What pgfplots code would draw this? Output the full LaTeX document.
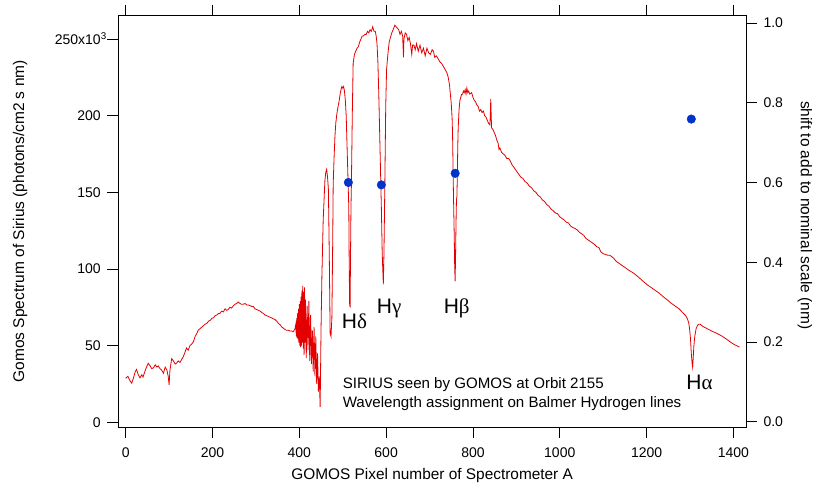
\documentclass[border=0pt]{standalone}
\usepackage{fontspec}
\setmainfont{Liberation Sans}
\newfontfamily\greekfont{Liberation Serif}
\usepackage{pgfplots}
\pgfplotsset{compat=1.18}
\definecolor{specred}{RGB}{228,0,0}
\definecolor{dotblue}{RGB}{0,51,204}

\pgfplotstableread{
x y
0 28.7
5 30
10 27
14 25.5
18 29
22 33
25 34.5
29 31
33 29
37 31
40 29.5
44 33
48 36
52 38.5
56 37
60 35
64 35.5
68 37.5
72 36
75 36.8
79 35
83 34
87 32
91 36
95 34
98 30
100 24.5
102 34
106 41.5
110 40
114 38
117 38.5
121 40
125 39
129 41
133 43
137 46
140 48.5
144 47
148 50
152 51
156 52.5
160 56
164 58
167 60
171 61
175 62
179 63
183 64
187 64.5
191 66
195 66.5
199 68
202 68
206 69.5
210 70
214 71
217 71
221 72.5
225 72
229 74
233 73
236 73.5
240 75
244 74.5
248 76
252 77
256 77.5
259 78.5
263 77.5
267 77
271 77
275 77.5
279 76.5
283 76.5
287 76
291 75.5
294 75.5
298 74
302 73.5
306 73
310 72.5
314 71.5
317 71
321 70
325 69.5
329 69
333 68.5
337 68
340 67.5
344 67
348 66
352 64.5
356 63.5
360 62
363 61.5
367 60.5
371 60
375 60
379 59.5
383 59.5
386 59
390 61
392 64
393 56
394 68
395 55
396 71
397 54
398 74
399 52
400 77
401 50
402 79
403 49
404 82
405 50
406 86
407 52
408 89
409 48
410 85
411 44
412 88
413 52
414 80
416 42
418 76
420 47
422 79
424 40
426 70
428 38
430 60
432 33
434 62
436 30
438 56
440 25
442 45
444 20
446 30
448 10
450 60
452 95
455 132
459 158
461 163
463 165
465 160
467 152
469 110
471 58
473 56
475 68
477 120
478 155
480 172
482 186
484 195
486 200
488 204
490 207
492 210
494 214
496 217
498 219
500 218
502 219
504 216
506 210
508 200
510 180
512 160
514 140
515 100
516 76
517 75.5
518 110
519 140
520 155
522 200
524 234
527 240
530 242
533 244
536 245
539 248
542 250
545 252
548 252
551 253
554 253
557 255
560 254
563 256
566 255
569 258
572 255
575 255
577 252
579 247
581 235
583 215
585 190
587 165
589 140
591 110
593.5 90
595 110
597 155
599 205
601 230
604 240
607 248
610 251
613 254
616 256
620 259
623 258
626 257
629 256
632 253
635 255
638 252
640 238
641 250
644 254
647 253
650 249
653 251
656 247
659 240
661 246
664 246
667 243
670 247
674 242
678 246
682 241
686 244
690 239
694 244
698 241
702 240
706 243
709 242
712 238
716 239
720 237
724 235
728 234
732 232
736 230
740 228
743 225
746 220
748 214
750 208
752 198
753 188
754 170
755 150
757 120
758 100
759 92
760 110
761 130
762 145
763 147
764 160
765 180
766 192
768 204
770 210
772 212
774 214
776 214
778 216
780 215
782 217
784 214
786 218
788 215
790 216
793 214
797 215
800 212
803 210
806 209
809 207
812 206
815 203
818 204
821 202
824 203
827 200
830 199
833 197
836 195
839 194
840 200
841 211
842 200
843 192
846 191
849 189
852 187
855 184
858 182
860 178
862 179
866 176
870 175
874 174
878 172
882 172
885 171
890 168
895 166
900 164
905 162
910 160
915 159
920 157
925 156
930 154
935 153
940 151
945 150
950 148
955 147
960 145
965 144
970 142
975 141
980 139
985 138
990 136.5
995 136
1000 134
1005 133
1010 132
1015 130.5
1020 130
1025 128
1030 127
1035 126.5
1040 125.5
1045 124
1050 123
1055 122
1060 120
1065 119
1070 118
1075 117
1080 116
1085 114.5
1090 114
1095 111
1100 110
1105 109.5
1110 109
1115 109
1120 108
1124 107
1130 105
1140 103
1150 101
1160 99
1170 97.3
1180 95
1190 92.5
1200 90
1210 88
1220 86
1230 84
1240 81.5
1247 80
1255 78
1265 76
1275 74
1285 71
1290 69.5
1294 67.5
1297 65
1299 61
1301 55
1303 45
1305 38
1306 36
1307 40
1309 50
1311 56
1314 61
1317 63
1320 64
1323 64
1330 62.5
1340 61
1350 59.5
1362 58
1375 56
1390 53
1400 51
1414 49
}\spectrum

\pgfplotstableread{
x y
513 0.600
589 0.594
759 0.623
1303 0.759
}\shifts

\begin{document}
\begin{tikzpicture}
\pgfplotsset{every axis/.append style={
  scale only axis, width=627.7pt, height=411.3pt,
  at={(0pt,0pt)}, anchor=south west,
  xmin=-17, xmax=1429,
  tick align=outside, major tick length=11pt,
  axis line style={line width=0.8pt}, every tick/.style={black, line width=0.8pt},
  /pgf/number format/assume math mode=true,
  /pgf/number format/1000 sep={},
  ticklabel style={font=\fontsize{14}{16}\selectfont},
}}
\begin{axis}[
  ymin=-3.07, ymax=265.2,
  xtick={0,200,...,1400}, xtick pos=both, xticklabel pos=lower,
  ytick={0,50,...,250}, ytick pos=left,
  yticklabels={0,50,100,150,200,{250x10\rlap{\textsuperscript{3}}}},
  yticklabel style={xshift=-3pt},
  xticklabel style={yshift=-6pt},
  xlabel={GOMOS Pixel number of Spectrometer A},
  ylabel={Gomos Spectrum of Sirius (photons/cm2 s nm)},
  xlabel style={at={(axis description cs:0.5,-0.1191)}, anchor=center, font=\fontsize{15.4}{17}\selectfont},
  ylabel style={at={(axis description cs:-0.1566,0.5)}, anchor=center, font=\fontsize{15.5}{17}\selectfont},
  clip=false,
]
\addplot[specred, line width=0.8pt] table {\spectrum};
\node[font=\fontsize{21}{21}\selectfont] at (axis cs:527,65.7) {H{\greekfont δ}};
\node[font=\fontsize{21}{21}\selectfont] at (axis cs:607,74) {H{\greekfont γ}};
\node[font=\fontsize{21}{21}\selectfont] at (axis cs:762.6,74.5) {H{\greekfont β}};
\node[font=\fontsize{21}{21}\selectfont] at (axis cs:1322,26) {H{\greekfont α}};
\node[anchor=west, align=left, font=\fontsize{15.1}{19.5}\selectfont] at (axis cs:492,18.3)
  {SIRIUS seen by GOMOS at Orbit 2155\\Wavelength assignment on Balmer Hydrogen lines};
\end{axis}
\begin{axis}[
  ymin=-0.0133, ymax=1.0183,
  axis x line=none, axis y line*=right,
  ytick={0,0.2,...,1.0},
  yticklabel style={xshift=3pt, /pgf/number format/.cd, fixed, fixed zerofill, precision=1},
  clip=false,
]
\addplot[only marks, mark=*, mark size=4.3pt, color=dotblue] table {\shifts};
\node[rotate=-90, font=\fontsize{15.5}{17}\selectfont] at (axis description cs:1.094,0.515)
  {shift to add to nominal scale (nm)};
\end{axis}
\pgfresetboundingbox
\path[use as bounding box] (-118.3pt,-62pt) rectangle (698.7pt,427pt);
\end{tikzpicture}
\end{document}
